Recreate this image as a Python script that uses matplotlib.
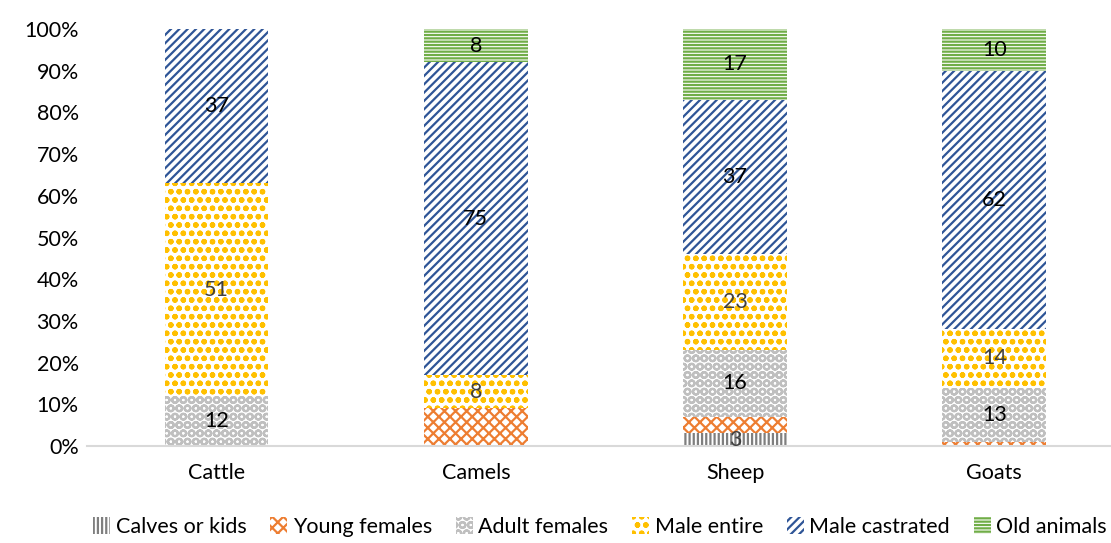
import matplotlib
matplotlib.use("Agg")
import matplotlib.pyplot as plt
import numpy as np

plt.rcParams['font.family'] = ['Lato', 'DejaVu Sans']
plt.rcParams['hatch.linewidth'] = 1.6

animals = ["Cattle", "Camels", "Sheep", "Goats"]
groups = ["Calves or kids", "Young females", "Adult females",
          "Male entire", "Male castrated", "Old animals"]

calves = [0, 0, 3, 0]
young_females = [0, 9, 4, 1]
adult_females = [12, 0, 16, 13]
male_entire = [51, 8, 23, 14]
male_castrated = [37, 75, 37, 62]
old_animals = [0, 8, 17, 10]

# which segments carry a printed value
show_label = [
    [False, False, True, False],
    [False, False, False, False],
    [True, False, True, True],
    [True, True, True, True],
    [True, True, True, True],
    [False, True, True, True],
]

colors = ["#7f7f7f", "#ed7d31", "#bfbfbf", "#ffc000", "#2f5597", "#70ad47"]
hatches = ["||||", "xxx", "OO", "oo", "////", "-----"]
label_colors = ["#404040", "#404040", "black", "#404040", "black", "black"]

series = [calves, young_females, adult_females, male_entire, male_castrated, old_animals]

fig = plt.figure(figsize=(11.11, 5.43), dpi=100)
ax = fig.add_axes([87 / 1111, 1 - 446 / 543, 1 - 87 / 1111, 417 / 543])

x = np.arange(len(animals))
bottom = np.zeros(len(animals))
for vals, name, col, hat, lc, shown in zip(series, groups, colors, hatches, label_colors, show_label):
    vals = np.array(vals, dtype=float)
    ax.bar(x, vals, 0.4, bottom=bottom, facecolor="white", edgecolor=col,
           hatch=hat, linewidth=0, label=name)
    for i, v in enumerate(vals):
        if shown[i] and v > 0:
            ax.text(x[i], bottom[i] + v / 2, f"{int(v)}", ha="center", va="center",
                    fontsize=15.5, color=lc)
    bottom += vals

ax.set_xlim(-0.5, 3.45)
ax.set_ylim(0, 100)
ax.set_yticks(np.arange(0, 101, 10))
ax.set_yticklabels([f"{t}%" for t in range(0, 101, 10)], fontsize=15.5)
ax.set_xticks(x)
ax.set_xticklabels(animals, fontsize=15.5)
ax.tick_params(length=0, pad=12)
ax.tick_params(axis="y", pad=6)
for side in ["top", "right", "left"]:
    ax.spines[side].set_visible(False)
ax.spines["bottom"].set_color("#d9d9d9")
ax.spines["bottom"].set_linewidth(1.5)

fig.legend(loc="lower center", bbox_to_anchor=(0.54, -0.025), ncol=6, frameon=False,
           fontsize=15.5, handlelength=0.8, handleheight=0.8, handletextpad=0.25,
           columnspacing=1.1)

fig.savefig("out.png", dpi=100)
